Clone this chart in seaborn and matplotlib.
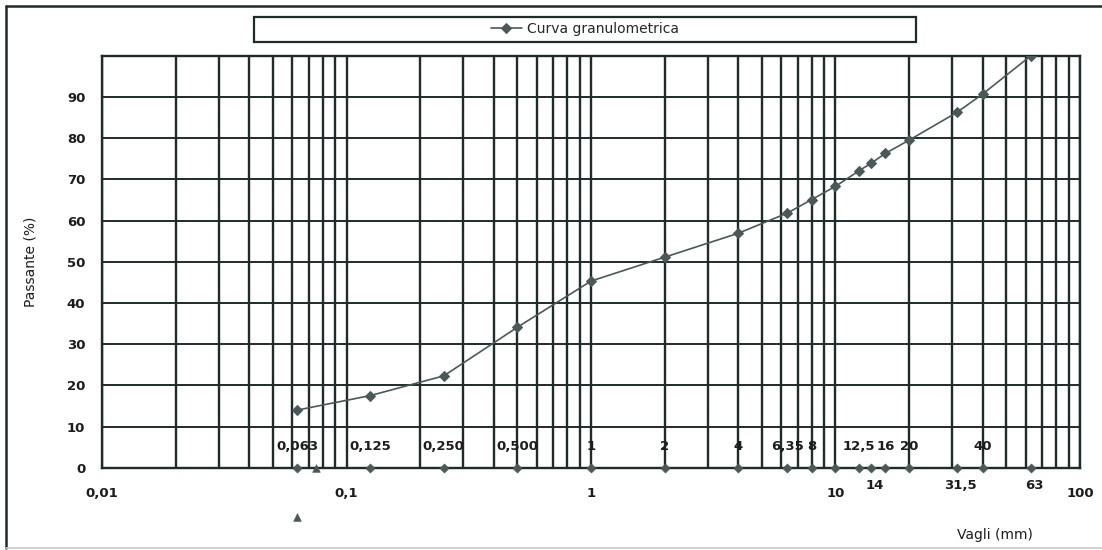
import matplotlib
matplotlib.use("Agg")
import matplotlib.pyplot as plt
import matplotlib.ticker as mticker
from matplotlib.lines import Line2D
from matplotlib.patches import Rectangle
import pandas as pd
import seaborn as sns

# sieve openings (mm) and percent passing
sieves = [0.063, 0.125, 0.25, 0.5, 1, 2, 4, 6.35, 8, 10, 12.5, 14, 16, 20, 31.5, 40, 63]
passing = [14.0, 17.5, 22.3, 34.1, 45.3, 51.1, 56.9, 61.8, 65.1, 68.3, 72.1, 73.9, 76.3, 79.5, 86.3, 90.7, 100]
sieve_labels = ["0,063", "0,125", "0,250", "0,500", "1", "2", "4", "6,35", "8", "",
                "12,5", "14", "16", "20", "31,5", "40", "63"]
label_side = ["up", "up", "up", "up", "up", "up", "up", "up", "up", "none",
              "up", "down", "up", "up", "down", "up", "down"]

# extra triangle markers (0.075 sieve on the axis, one below it)
tri_x = [0.075, 0.063]
tri_y = [0, -12]

x_ticks = [0.01, 0.1, 1, 10, 100]
x_tick_labels = ["0,01", "0,1", "1", "10", "100"]
y_ticks = [0, 10, 20, 30, 40, 50, 60, 70, 80, 90]

sns.set_theme(style="white")
plt.rcParams["font.family"] = ["DejaVu Sans"]

ink = "#1f2b2b"
grey = "#4a5858"
txt = "#1c1c1c"

curve = pd.DataFrame({"Vagli": sieves, "Passante": passing})
base = pd.DataFrame({"Vagli": sieves, "Passante": [0] * len(sieves)})

fig = plt.figure(figsize=(11.02, 5.5), dpi=100)
ax = fig.add_axes([0.0926, 0.1496, 0.8874, 0.7491])
ax.set_xscale("log")
ax.set_xlim(0.01, 100)
ax.set_ylim(0, 100)

sns.lineplot(data=curve, x="Vagli", y="Passante", marker="D", markersize=5,
             color=grey, linewidth=1.2, markeredgecolor=grey,
             label="Curva granulometrica", ax=ax, zorder=4)
sns.scatterplot(data=base, x="Vagli", y="Passante", marker="D", s=22,
                color=grey, edgecolor=grey, clip_on=False, ax=ax, zorder=5)
sns.scatterplot(x=tri_x, y=tri_y, marker="^", s=30, color=grey,
                edgecolor=grey, clip_on=False, ax=ax, zorder=5)

handles, labels = ax.get_legend_handles_labels()
ax.get_legend().remove()

# grid
ax.xaxis.set_major_locator(mticker.FixedLocator(x_ticks))
ax.xaxis.set_major_formatter(mticker.FixedFormatter(x_tick_labels))
ax.xaxis.set_minor_locator(mticker.LogLocator(base=10, subs=range(2, 10)))
ax.xaxis.set_minor_formatter(mticker.NullFormatter())
ax.set_yticks(y_ticks)
ax.yaxis.set_minor_locator(mticker.MultipleLocator(10))
ax.grid(which="both", axis="x", color=ink, linewidth=1.7)
ax.grid(which="both", axis="y", color=ink, linewidth=1.4)
ax.set_axisbelow(True)

for sp in ax.spines.values():
    sp.set_color(ink)
    sp.set_linewidth(1.7)

ax.tick_params(axis="x", which="major", length=5, width=1.4, color=ink,
               direction="out", pad=9, labelsize=9.5, labelcolor=txt)
ax.tick_params(axis="x", which="minor", length=0)
ax.tick_params(axis="y", which="both", length=0, pad=12, labelsize=9.5,
               labelcolor=txt)
for t in ax.get_xticklabels() + ax.get_yticklabels():
    t.set_fontweight("bold")

# data labels
for x, lab, side in zip(sieves, sieve_labels, label_side):
    if side == "up":
        ax.text(x, 5.1, lab, ha="center", va="center", fontsize=9.5,
                fontweight="bold", color=txt, zorder=6)
    elif side == "down":
        ax.text(x * 1.03, -4.3, lab, ha="center", va="center", fontsize=9.5,
                fontweight="bold", color=txt)

ax.set_xlabel("Vagli (mm)", fontsize=10, color=txt)
ax.set_ylabel("Passante (%)", fontsize=10, color=txt)
ax.xaxis.set_label_coords(0.913, -0.146)
ax.yaxis.set_label_coords(-0.066, 0.5)

# legend in a wide box on top
fig.legend(handles, labels, loc="center", bbox_to_anchor=(0.531, 0.947),
           frameon=False, fontsize=10, handlelength=2.2, handletextpad=0.4)
fig.patches.append(Rectangle((0.2305, 0.924), 0.6007, 0.0455, transform=fig.transFigure,
                             fill=False, edgecolor=ink, linewidth=1.6))

# outer chart border (right side falls outside the picture)
fig.lines.append(Line2D([0.0054, 0.0054], [0.004, 0.989], transform=fig.transFigure,
                        color=ink, linewidth=1.8))
fig.lines.append(Line2D([0.0054, 1.0], [0.989, 0.989], transform=fig.transFigure,
                        color=ink, linewidth=1.8))
fig.lines.append(Line2D([0.0054, 1.0], [0.004, 0.004], transform=fig.transFigure,
                        color="#c8c8c8", linewidth=1.2))

plt.savefig("out.png", dpi=100)
